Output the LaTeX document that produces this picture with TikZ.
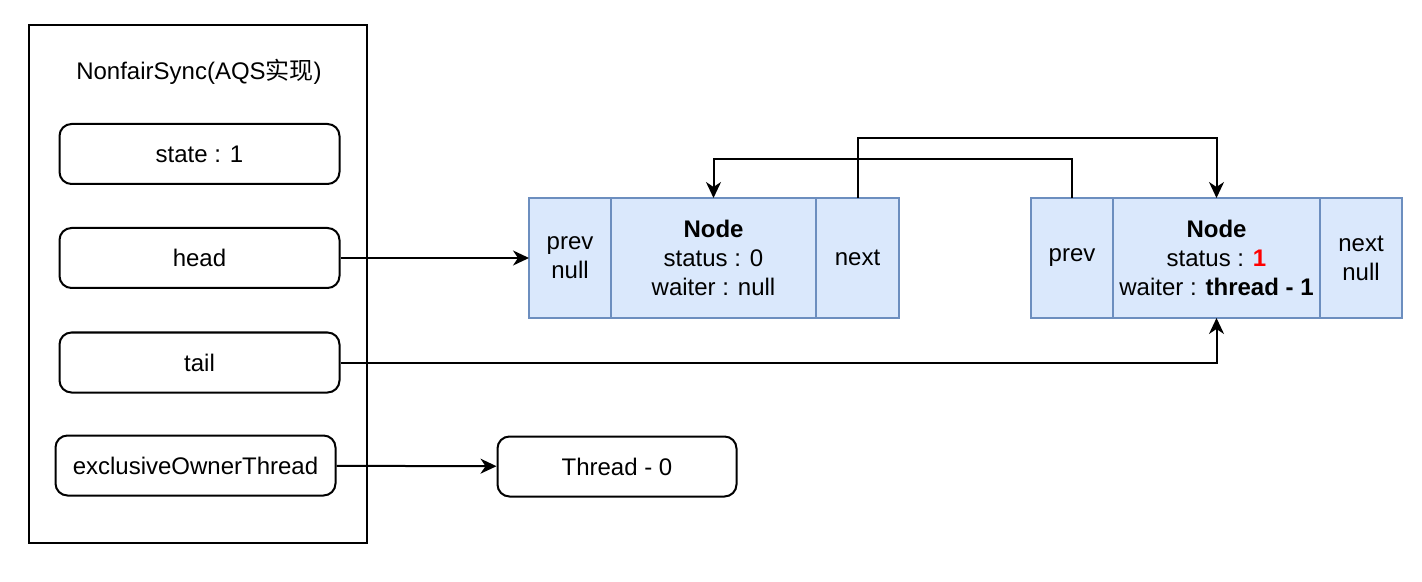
\documentclass[tikz,border=0pt]{standalone}
\usepackage{fontspec}
\setmainfont{Liberation Sans}
\newfontfamily\cjkfont{Noto Sans CJK SC}
\usetikzlibrary{arrows.meta,positioning}

\definecolor{nodefill}{HTML}{DAE8FC}
\definecolor{nodeedge}{HTML}{6C8EBF}

\tikzset{
    txt/.style={font=\fontsize{12}{14.5}\selectfont},
    field/.style={txt, draw, rounded corners=6pt, line width=1pt,
        minimum width=140pt, minimum height=30pt},
    cell/.style={txt, draw=nodeedge, fill=nodefill, line width=1pt,
        minimum height=60pt, inner sep=0pt, outer sep=0pt, align=center},
    link/.style={-{Stealth[length=8pt,width=7.5pt,inset=2.5pt]}, line width=1pt}
}

\begin{document}
\begin{tikzpicture}[x=0.5pt, y=-0.5pt]
    \useasboundingbox (0,0) rectangle (1422,582);

    % AQS
    \node[draw, line width=1pt, minimum width=169pt, minimum height=259pt] (sync) at (198,284) {};
    \node[txt] (title) at (199,72) {NonfairSync(AQS{\cjkfont 实现})};
    \node[field] (state) at (199.5,154) {state : 1};
    \node[field] (head) at (199.5,258) {head};
    \node[field] (tail) at (199.5,362.5) {tail};
    \node[field] (owner) at (195.5,465.5) {exclusiveOwnerThread};
    \node[field, minimum width=119.5pt] (thread) at (617,466.5) {Thread - 0};

    % Node 1
    \node[cell, minimum width=41pt] (n1prev) at (570,258) {prev\\null};
    \node[cell, minimum width=102.5pt, right=0pt of n1prev] (n1mid) {\textbf{Node}\\status : 0\\waiter : null};
    \node[cell, minimum width=41.5pt, right=0pt of n1mid] (n1next) {next};

    % Node 2
    \node[cell, minimum width=41pt] (n2prev) at (1072,258) {prev};
    \node[cell, minimum width=103.5pt, right=0pt of n2prev] (n2mid) {\textbf{Node}\\status : \textcolor{red}{\textbf{1}}\\waiter : \textbf{thread - 1}};
    \node[cell, minimum width=41pt, right=0pt of n2mid] (n2next) {next\\null};

    % Pfeile
    \draw[link] (head) -- (n1prev);
    \draw[link] (tail) -| (n2mid.south);
    \draw[link] (owner) -- (thread);
    \draw[link] (n1next.north) -- ++(0,-60) -| (n2mid.north);
    \draw[link] (n2prev.north) -- ++(0,-39) -| (n1mid.north);

\end{tikzpicture}
\end{document}
